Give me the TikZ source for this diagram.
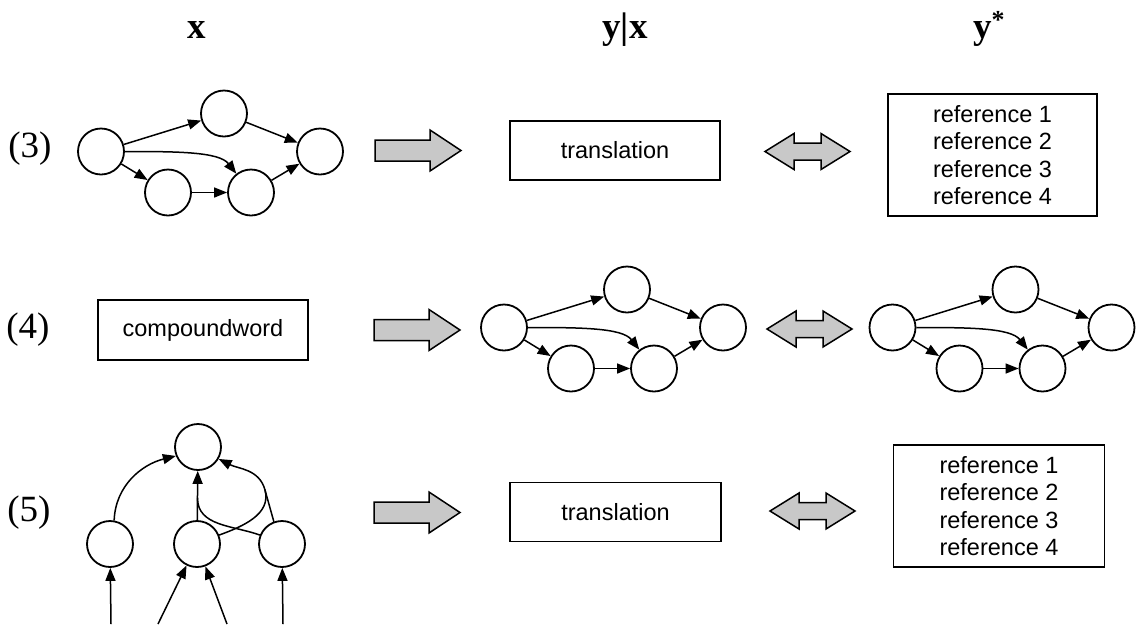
\documentclass[tikz,border=0pt]{standalone}
\usepackage{fontspec}
\setmainfont{Liberation Serif}
\newfontfamily\boxfont{Liberation Sans}
\usetikzlibrary{arrows.meta}
\definecolor{arrowgray}{RGB}{200,200,200}
\begin{document}
\begin{tikzpicture}[x=1pt,y=1pt,
  circ/.style={circle, draw, line width=1.8pt, minimum size=46pt, inner sep=0pt},
  tbox/.style={draw, line width=1.8pt, font=\boxfont\fontsize{23.5}{27.5}\selectfont, align=center, inner sep=0pt},
  edge/.style={line width=1.5pt, -{Triangle[length=13pt,width=10pt]}},
  plain/.style={line width=1.5pt, line cap=round},
  title/.style={font=\bfseries\fontsize{37}{40}\selectfont, anchor=base, inner sep=0pt},
  rowlab/.style={font=\fontsize{37}{40}\selectfont, inner sep=0pt},
  blk/.style={draw, line width=1.5pt, fill=arrowgray, line join=miter},
  sarrow/.pic={\draw[blk] (0,10.5) -- (55,10.5) -- (55,20.5) -- (86,0) -- (55,-20.5) -- (55,-10.5) -- (0,-10.5) -- cycle;},
  darrow/.pic={\draw[blk] (0,0) -- (29,18) -- (29,8.5) -- (56,8.5) -- (56,18) -- (85,0) -- (56,-18) -- (56,-8.5) -- (29,-8.5) -- (29,-18) -- cycle;},
  dag/.pic={
    \node[circ] (-A) at (0,0) {};
    \node[circ] (-B) at (123,38) {};
    \node[circ] (-C) at (67,-41) {};
    \node[circ] (-D) at (150,-41) {};
    \node[circ] (-E) at (219,0) {};
    \draw[edge] (-A) -- (-B);
    \draw[edge] (-B) -- (-E);
    \draw[edge] (-A) -- (-C);
    \draw[edge] (-C) -- (-D);
    \draw[edge] (-D) -- (-E);
    \draw[edge] (-A.east) to[out=0,in=128] (-D);
  }
]
\fill[white] (0,0) rectangle (1136,-625);
\useasboundingbox (0,0) rectangle (1136,-625);

% titles
\node[title] (tx) at (197,-38) {x};
\node[title] (tyx) at (625,-38) {y|x};
\node[title] (tys) at (989,-38) {y\textsuperscript{*}};

% row labels
\node[rowlab] (l3) at (30,-149) {(3)};
\node[rowlab] (l4) at (28,-330) {(4)};
\node[rowlab] (l5) at (29,-513) {(5)};

% row 1
\pic (g1) at (101,-151.5) {dag};
\pic (s1) at (375,-150.5) {sarrow};
\node[tbox, minimum width=210pt, minimum height=59pt] (tr1) at (615,-150.5) {translation};
\pic (d1) at (765,-151.5) {darrow};
\node[tbox, minimum width=209pt, minimum height=122pt] (ref1) at (992.5,-155) {reference 1\\reference 2\\reference 3\\reference 4};

% row 2
\node[tbox, minimum width=210pt, minimum height=60pt] (cw) at (203,-330) {compoundword};
\pic (s2) at (374,-330) {sarrow};
\pic (g2) at (504,-327.5) {dag};
\pic (d2) at (767,-329) {darrow};
\pic (g3) at (892.5,-327.5) {dag};

% row 3 tree
\node[circ] (T) at (198,-447) {};
\node[circ] (L) at (110,-544) {};
\node[circ] (M) at (197,-544) {};
\node[circ] (R) at (282,-544) {};
\coordinate (j1) at (265,-490);
\coordinate (j2) at (197.5,-498);
\coordinate (i1) at (111,-624);
\coordinate (i2) at (158,-624);
\coordinate (i3) at (227,-624);
\coordinate (i4) at (283,-624);
\draw[edge] (L.80) to[out=88,in=194] (T.202);
\draw[edge] (M) -- (T);
\draw[plain] (R.110) -- (j1);
\draw[edge] (j1) to[out=105,in=-27] (T.-30);
\draw[plain] (M.22) to[out=20,in=-75] (j1);
\draw[plain] (R.158) to[out=160,in=-90] (j2);
\draw[edge] (i1) -- (L);
\draw[edge] (i2) -- (M);
\draw[edge] (i3) -- (M);
\draw[edge] (i4) -- (R);

% row 3 rest
\pic (s3) at (374,-512.5) {sarrow};
\node[tbox, minimum width=211pt, minimum height=59pt] (tr3) at (615.5,-512) {translation};
\pic (d3) at (770,-511) {darrow};
\node[tbox, minimum width=211pt, minimum height=122pt] (ref3) at (999,-506) {reference 1\\reference 2\\reference 3\\reference 4};
\end{tikzpicture}
\end{document}
